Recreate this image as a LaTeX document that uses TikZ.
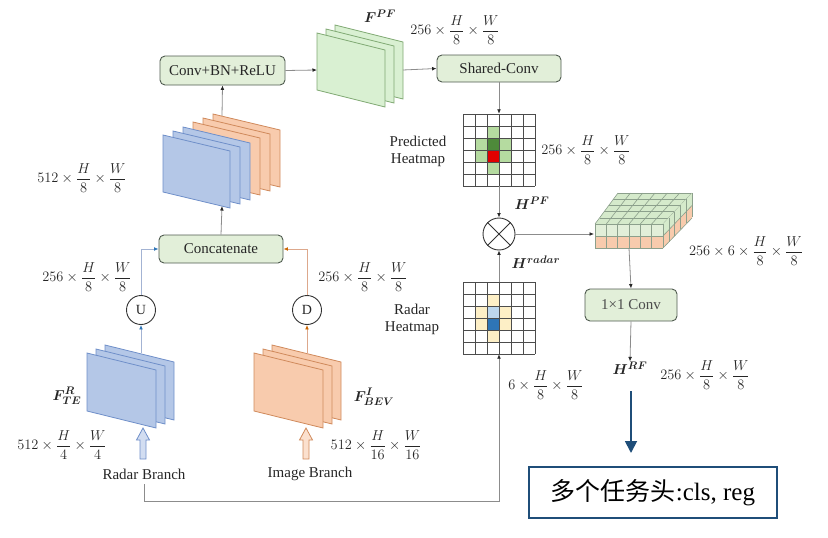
\documentclass[tikz,border=0pt]{standalone}
\usepackage{fontspec}
\usepackage{amsmath}
\usepackage{bm}
\setmainfont{Liberation Serif}
\newfontfamily\cjk{Noto Sans CJK SC}
\usetikzlibrary{arrows.meta,calc}
\definecolor{boxgreen}{HTML}{E2EFD9}
\definecolor{boxedge}{HTML}{4F5B4F}
\definecolor{pfgreen}{HTML}{D9F0D2}
\definecolor{pfedge}{HTML}{7FA872}
\definecolor{sblue}{HTML}{B4C7E7}
\definecolor{sblueedge}{HTML}{6F8FC9}
\definecolor{sorange}{HTML}{F8CBAD}
\definecolor{sorangeedge}{HTML}{D08A5C}
\definecolor{lgreen}{HTML}{B5DBA0}
\definecolor{dgreen}{HTML}{4E8A3A}
\definecolor{hred}{HTML}{E00000}
\definecolor{lyellow}{HTML}{FDEFC6}
\definecolor{lblue}{HTML}{BDD7EE}
\definecolor{dblue}{HTML}{2E75B6}
\definecolor{cubegreen}{HTML}{D5EACB}
\definecolor{cubeedge}{HTML}{8CA08C}
\definecolor{connc}{HTML}{8C8C8C}
\definecolor{bconnc}{HTML}{A3B3D3}
\definecolor{oconnc}{HTML}{DDA88C}
\definecolor{navy}{HTML}{1F4E79}
\definecolor{txt}{HTML}{262626}
\newcommand\drawsheet[6]{% x y w h skew style
  \filldraw[#6] (#1,#2) -- ++(#3,#4) -- ++(0,#5) -- ++(-#3,-#4) -- cycle;}
\begin{document}
\begin{tikzpicture}[x=1pt,y=-1pt,
  every node/.style={text=txt},
  gbox/.style={draw=boxedge, fill=boxgreen, rounded corners=5pt, line width=0.9pt,
    font=\fontsize{15}{18}\selectfont, inner sep=0pt},
  conn/.style={draw=connc, line width=0.8pt, -{Latex[length=4.5pt,width=3.8pt,fill=black!85,color=black!85]}},
  bconn/.style={draw=bconnc, line width=0.8pt, -{Latex[length=4.5pt,width=3.8pt,color=dblue]}},
  oconn/.style={draw=oconnc, line width=0.8pt, -{Latex[length=4.5pt,width=3.8pt,color=orange!80!black]}},
  dim/.style={font=\fontsize{14}{16}\selectfont, inner sep=0pt},
  lbl/.style={font=\fontsize{15}{17}\selectfont, inner sep=0pt, align=center},
  sym/.style={font=\fontsize{15}{17}\selectfont, inner sep=0pt},
  gridline/.style={draw=black!70, line width=0.7pt},
  pfs/.style={fill=pfgreen, draw=pfedge, line width=0.8pt},
  bls/.style={fill=sblue, draw=sblueedge, line width=0.8pt},
  ors/.style={fill=sorange, draw=sorangeedge, line width=0.8pt},
]
\useasboundingbox (0,0) rectangle (828,538);

% ---------- boxes ----------
\node[gbox, minimum width=125pt, minimum height=29pt] (cbr) at (222.5,70.5) {Conv+BN+ReLU};
\node[gbox, minimum width=124pt, minimum height=28pt] (cat) at (221,249) {Concatenate};
\node[gbox, minimum width=124pt, minimum height=27pt] (sc) at (499,68.5) {Shared-Conv};
\node[gbox, minimum width=92pt, minimum height=32pt, text=black!70] (c11) at (631,305) {1×1 Conv};
\node[draw=navy, line width=1.6pt, minimum width=248pt, minimum height=51pt, inner sep=0pt,
  font=\fontsize{25}{28}\selectfont, text=black] (task) at (653,492.5) {{\cjk 多个任务头}:cls, reg};

% ---------- concat stack ----------
\coordinate (catstacktop) at (222,116);
\coordinate (catstackbot) at (222,206);
\draw[conn] (catstacktop) -- (cbr.south);
\drawsheet{213}{114}{67}{16}{57}{ors}
\drawsheet{203}{118}{67}{16}{57}{ors}
\drawsheet{193}{122}{67}{16}{57}{ors}
\drawsheet{183}{127}{67}{16}{57}{bls}
\drawsheet{173}{131}{67}{16}{57}{bls}
\drawsheet{163}{135}{67}{16}{57}{bls}
\draw[conn] (cat.north) -- (catstackbot);

% ---------- F^PF stack ----------
\drawsheet{335}{25}{68}{17}{57}{pfs}
\drawsheet{326}{29}{68}{17}{57}{pfs}
\drawsheet{317}{33}{68}{17}{57}{pfs}
\coordinate (fpfin) at (317,70);
\coordinate (fpfout) at (403,70);
\draw[conn] (cbr.east) -- (fpfin);
\draw[conn] (fpfout) -- (sc.west);
\node[sym] (fpf) at (380,16) {$\bm{F}^{\bm{PF}}$};
\node[dim] (d1) at (455,30) {$256\times\dfrac{H}{8}\times\dfrac{W}{8}$};

% ---------- heatmaps ----------
\node[minimum size=72pt, inner sep=0pt] (pgrid) at (499,150) {};
\begin{scope}[shift={(463,114)}]
  \foreach \c/\r in {2/1,1/2,3/2,1/3,3/3,2/4} \fill[lgreen] (\c*12,\r*12) rectangle ++(12,12);
  \fill[dgreen] (24,24) rectangle ++(12,12);
  \fill[hred] (24,36) rectangle ++(12,12);
  \foreach \i in {0,...,6} {\draw[gridline] (\i*12,0) -- (\i*12,72); \draw[gridline] (0,\i*12) -- (72,\i*12);}
\end{scope}
\node[minimum size=72pt, inner sep=0pt] (rgrid) at (499,318) {};
\begin{scope}[shift={(463,282)}]
  \foreach \c/\r in {2/1,1/2,3/2,1/3,3/3,2/4} \fill[lyellow] (\c*12,\r*12) rectangle ++(12,12);
  \fill[lblue] (24,24) rectangle ++(12,12);
  \fill[dblue] (24,36) rectangle ++(12,12);
  \foreach \i in {0,...,6} {\draw[gridline] (\i*12,0) -- (\i*12,72); \draw[gridline] (0,\i*12) -- (72,\i*12);}
\end{scope}
\draw[conn] (sc.south) -- (pgrid.north);
\node[lbl] (pht) at (418,151) {Predicted\\Heatmap};
\node[dim] (d2) at (586,150) {$256\times\dfrac{H}{8}\times\dfrac{W}{8}$};
\node[lbl] (rht) at (412,319) {Radar\\Heatmap};

% ---------- otimes ----------
\node[circle, draw=black!80, line width=0.9pt, minimum size=32pt, inner sep=0pt] (ot) at (499,234) {};
\draw[black!80, line width=0.9pt] (ot.north east) -- (ot.south west) (ot.north west) -- (ot.south east);
\draw[conn] (pgrid.south) -- (ot.north);
\draw[conn] (rgrid.north) -- (ot.south);
\node[sym] (hpf) at (532,203) {$\bm{H}^{\bm{PF}}$};
\node[sym] (hrad) at (536,262) {$\bm{H}^{\bm{radar}}$};

% ---------- cube ----------
\coordinate (FL) at (595,224);
\coordinate (FR) at (663,224);
\coordinate (BL) at (618,193);
\coordinate (BR) at (692,193);
\fill[cubegreen] (FL) -- (FR) -- (BR) -- (BL) -- cycle;
\foreach \i in {0,...,6} \draw[cubeedge, line width=0.6pt] ($(FL)!\i/6!(FR)$) -- ($(BL)!\i/6!(BR)$);
\foreach \j in {0,...,5} \draw[cubeedge, line width=0.6pt] ($(FL)!\j/5!(BL)$) -- ($(FR)!\j/5!(BR)$);
\fill[boxgreen] (595,224) rectangle (663,236);
\fill[sorange] (595,236) rectangle (663,248);
\fill[cubegreen] (663,224) -- (692,193) -- (692,205.5) -- (663,236) -- cycle;
\fill[sorange] (663,236) -- (692,205.5) -- (692,218) -- (663,248) -- cycle;
\foreach \i in {0,...,6} \draw[cubeedge, line width=0.6pt] (595+\i*68/6,224) -- (595+\i*68/6,248);
\draw[cubeedge, line width=0.6pt] (595,224) -- (663,224) (595,236) -- (663,236) (595,248) -- (663,248);
\foreach \j in {0,...,5} \draw[cubeedge, line width=0.6pt] ($(FR)!\j/5!(BR)$) -- ++(0,24);
\draw[cubeedge, line width=0.6pt] (663,236) -- (692,205.5) (663,248) -- (692,218);
\coordinate (cubein) at (594,234);
\coordinate (cubebot) at (629,248);
\draw[conn] (ot.east) -- (cubein);
\node[dim] (d3) at (746,251) {$256\times6\times\dfrac{H}{8}\times\dfrac{W}{8}$};
\draw[conn] (cubebot) -- (c11.north);

% ---------- H^RF ----------
\node[sym] (hrf) at (630,368) {$\bm{H}^{\bm{RF}}$};
\draw[conn] (c11.south) -- (hrf.north);
\node[dim] (d4) at (705,375) {$256\times\dfrac{H}{8}\times\dfrac{W}{8}$};
\node[dim] (d5) at (546,385) {$6\times\dfrac{H}{8}\times\dfrac{W}{8}$};
\coordinate (bigs) at (631,391);
\coordinate (bige) at (631,453);
\draw[navy, line width=1.8pt, -{Triangle[length=12pt,width=12pt]}] (bigs) -- (bige);

% ---------- left: concat inputs ----------
\node[dim] (d6) at (82,178) {$512\times\dfrac{H}{8}\times\dfrac{W}{8}$};
\node[dim] (d7) at (87,277) {$256\times\dfrac{H}{8}\times\dfrac{W}{8}$};
\node[dim] (d8) at (363,277) {$256\times\dfrac{H}{8}\times\dfrac{W}{8}$};
\node[circle, draw=black!80, line width=0.9pt, minimum size=29pt, inner sep=0pt, font=\fontsize{14}{16}\selectfont] (U) at (141,310) {U};
\node[circle, draw=black!80, line width=0.9pt, minimum size=29pt, inner sep=0pt, font=\fontsize{14}{16}\selectfont] (D) at (307,310) {D};
\draw[bconn] (U.north) |- (cat.west);
\draw[oconn] (D.north) |- (cat.east);

% radar sheets
\drawsheet{105}{345}{69}{17}{58}{bls}
\drawsheet{96}{349}{69}{17}{58}{bls}
\drawsheet{87}{353}{69}{17}{58}{bls}
% image sheets
\drawsheet{272}{345}{69}{17}{58}{ors}
\drawsheet{263}{349}{69}{17}{58}{ors}
\drawsheet{254}{353}{69}{17}{58}{ors}
\coordinate (rstacktop) at (141,353);
\coordinate (istacktop) at (307,354);
\draw[bconn] (rstacktop) -- (U.south);
\draw[oconn] (istacktop) -- (D.south);
\node[sym] (frte) at (67,396) {$\bm{F}^{\bm{R}}_{\bm{TE}}$};
\node[sym] (fibev) at (374,397) {$\bm{F}^{\bm{I}}_{\bm{BEV}}$};

% hollow arrows
\filldraw[fill=sblue!60, draw=sblueedge, line width=0.8pt] (143,428) -- (149.5,440) -- (146,440) -- (146,459) -- (140,459) -- (140,440) -- (136.5,440) -- cycle;
\filldraw[fill=sorange!60, draw=sorangeedge, line width=0.8pt] (306,428) -- (312.5,440) -- (309,440) -- (309,459) -- (303,459) -- (303,440) -- (299.5,440) -- cycle;
\node[dim] (d9) at (62,445) {$512\times\dfrac{H}{4}\times\dfrac{W}{4}$};
\node[dim] (d10) at (376,445) {$512\times\dfrac{H}{16}\times\dfrac{W}{16}$};
\node[lbl] (rb) at (144,474) {Radar Branch};
\node[lbl] (ib) at (310,474) {Image Branch};

% radar branch to radar heatmap
\coordinate (rbcorner) at (144,501);
\draw[conn] ([yshift=-5pt]rb.south) -- (rbcorner) -| (rgrid.south);
\end{tikzpicture}
\end{document}
